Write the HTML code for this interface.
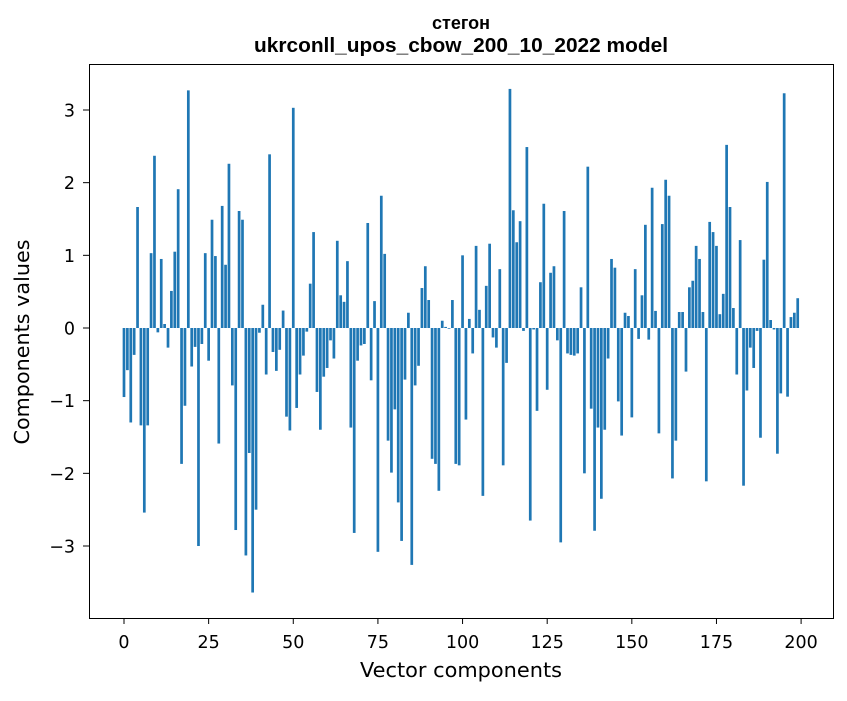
<!DOCTYPE html>
<html><head><meta charset="utf-8"><style>
body{margin:0;background:#fff}
svg text{font-family:"DejaVu Sans","Liberation Sans",sans-serif;fill:#000}
</style></head><body>
<svg id="chart" width="847" height="696" xmlns="http://www.w3.org/2000/svg">
<rect width="847" height="696" fill="#fff"/>
<g id="bars"></g>
<g id="axes"></g>
<rect x="89.5" y="64.5" width="744" height="554" fill="none" stroke="#000" stroke-width="1"/>
<text x="461" y="29" text-anchor="middle" style="font-family:'Liberation Sans',sans-serif;font-weight:bold;font-size:18px">стегон</text>
<text x="461" y="52" text-anchor="middle" textLength="414" lengthAdjust="spacingAndGlyphs" style="font-family:'Liberation Sans',sans-serif;font-weight:bold;font-size:20px">ukrconll_upos_cbow_200_10_2022 model</text>
<text x="461" y="677" text-anchor="middle" font-size="20" textLength="202" lengthAdjust="spacingAndGlyphs">Vector components</text>
<text transform="translate(29,342) rotate(-90)" text-anchor="middle" font-size="20" textLength="205" lengthAdjust="spacingAndGlyphs">Components values</text>
</svg>
<script>
const values = [
-0.95,-0.58,-1.30,-0.37,1.665,-1.34,-2.54,-1.34,1.03,2.37,
-0.06,0.95,0.055,-0.27,0.51,1.05,1.91,-1.87,-1.07,3.27,
-0.53,-0.26,-3.00,-0.22,1.03,-0.45,1.49,0.99,-1.59,1.68,
0.87,2.26,-0.79,-2.78,1.61,1.49,-3.13,-1.72,-3.64,-2.50,
-0.065,0.32,-0.64,2.39,-0.33,-0.59,-0.30,0.24,-1.22,-1.41,
3.03,-1.10,-0.64,-0.38,-0.05,0.61,1.32,-0.88,-1.40,-0.67,
-0.55,-0.17,-0.42,1.20,0.45,0.36,0.92,-1.37,-2.82,-0.45,
-0.24,-0.22,1.445,-0.72,0.37,-3.08,1.82,1.02,-1.55,-1.99,
-1.12,-2.40,-2.93,-0.71,0.21,-3.26,-0.79,-0.52,0.55,0.85,
0.385,-1.80,-1.87,-2.24,0.10,0.015,-0.01,0.385,-1.87,-1.89,
1.00,-1.26,0.125,-0.35,1.13,0.25,-2.31,0.58,1.16,-0.13,
-0.27,0.81,-1.89,-0.48,3.29,1.62,1.18,1.47,-0.04,2.49,
-2.65,-0.02,-1.14,0.63,1.71,-0.85,0.76,0.85,-0.17,-2.95,
1.61,-0.35,-0.37,-0.38,-0.35,0.56,-2.00,2.22,-1.11,-2.79,
-1.37,-2.35,-1.40,-0.42,0.95,0.83,-1.01,-1.48,0.21,0.165,
-1.23,0.81,-0.15,0.45,1.42,-0.16,1.93,0.235,-1.45,1.43,
2.04,1.82,-2.07,-1.55,0.22,0.22,-0.60,0.56,0.65,1.13,
0.95,0.22,-2.11,1.46,1.32,1.13,0.19,0.47,2.52,1.665,
0.275,-0.64,1.21,-2.17,-0.86,-0.27,-0.55,-0.04,-1.51,0.94,
2.01,0.11,-0.02,-1.73,-0.90,3.23,-0.945,0.15,0.21,0.41
];
const xTicks = [0,25,50,75,100,125,150,175,200];
const yTicks = [-3,-2,-1,0,1,2,3];
const NS="http://www.w3.org/2000/svg";
function xs(v){return 124+(v)*3.3855;}
function ys(v){return 328-v*72.67;}
const bars=document.getElementById('bars');
values.forEach((v,i)=>{
  const r=document.createElementNS(NS,'rect');
  const w=0.8*3.3855;
  const y0=ys(0), y1=ys(v);
  r.setAttribute('x',xs(i)-w/2);
  r.setAttribute('width',w);
  r.setAttribute('y',Math.min(y0,y1));
  r.setAttribute('height',Math.abs(y1-y0));
  r.setAttribute('fill','#1f77b4');
  
  
  bars.appendChild(r);
});
const axes=document.getElementById('axes');
xTicks.forEach(t=>{
  const x=xs(t);
  const l=document.createElementNS(NS,'line');
  l.setAttribute('x1',x);l.setAttribute('x2',x);l.setAttribute('y1',618);l.setAttribute('y2',624);
  l.setAttribute('stroke','#000');
  
  
  axes.appendChild(l);
  const tx=document.createElementNS(NS,'text');
  tx.setAttribute('x',x);tx.setAttribute('y',648);tx.setAttribute('text-anchor','middle');tx.setAttribute('font-size','17.5');
  tx.textContent=t;
  
  
  axes.appendChild(tx);
});
yTicks.forEach(t=>{
  const y=ys(t);
  const l=document.createElementNS(NS,'line');
  l.setAttribute('x1',83);l.setAttribute('x2',89);l.setAttribute('y1',y);l.setAttribute('y2',y);
  l.setAttribute('stroke','#000');
  
  
  axes.appendChild(l);
  const tx=document.createElementNS(NS,'text');
  tx.setAttribute('x',75);tx.setAttribute('y',y+6.5);tx.setAttribute('text-anchor','end');tx.setAttribute('font-size','17.5');
  tx.textContent=(t<0?'\u2212'+(-t):String(t));
  
  
  axes.appendChild(tx);
});
</script>
</body></html>
